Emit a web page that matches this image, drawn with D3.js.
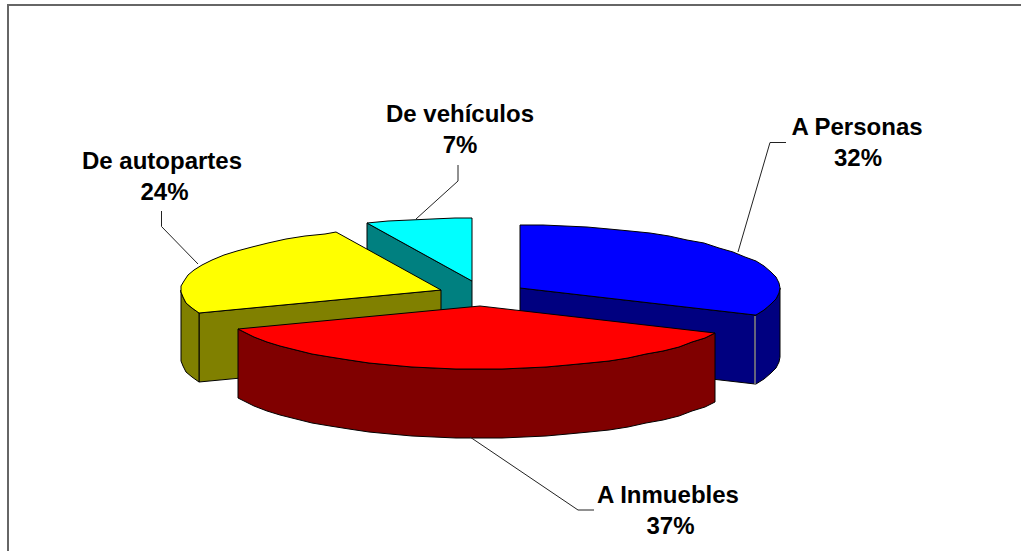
<!DOCTYPE html>
<html>
<head>
    <meta charset="utf-8">
    <title>Robos por tipo</title>
    <script src="https://d3js.org/d3.v7.min.js"></script>
    <style>
        html, body { margin: 0; padding: 0; background: #fff; }
        svg { display: block; }
        .label { font-family: "Liberation Sans", Arial, sans-serif; font-weight: bold; font-size: 24px; fill: #000; text-anchor: middle; }
        .leader { fill: none; stroke: #222; stroke-width: 1; }
        .frame { fill: none; stroke: #666; stroke-width: 2; }
        .top-face, .wall { stroke: #000; stroke-width: 1; stroke-linejoin: round; }
        .corner { stroke: #c8c8c8; stroke-width: 1; }
    </style>
</head>
<body>
    <script>
        // Values (labels are rounded)
        var categories = ["A Personas", "A Inmuebles", "De autopartes", "De vehículos"];
        var values = [32, 37, 24.4, 6.6];
        var topColors = ["#0000ff", "#ff0000", "#ffff00", "#00ffff"];
        var wallColors = ["#000080", "#800000", "#808000", "#008080"];

        var width = 1021, height = 551;

        // Tilted pie: ellipse radii and thickness
        var rx = 260, ry = 63, depth = 69;

        // Apex of every exploded slice
        var apexes = [[520, 288], [480, 306], [441, 290], [472, 281]];

        // Name x and baseline, percent x and baseline, leader line per slice
        var labelPos = [[857, 135, 858, 166], [668, 503, 670.5, 534], [162, 169, 164.5, 200], [460, 122, 460, 153]];
        var leaders = [
            [[738, 252], [770, 142.5], [786, 142.5]],
            [[470, 437], [578, 510], [594, 510]],
            [[198, 264], [161.5, 226.5], [161.5, 211]],
            [[416, 219], [458, 181], [458, 165]]
        ];

        var svg = d3.select("body").append("svg")
            .attr("width", width)
            .attr("height", height);

        // Only the top and left of the chart border are in the frame
        svg.append("path")
            .attr("class", "frame")
            .attr("d", d3.line()([[8, height], [8, 5], [width, 5]]));

        var pie = d3.pie().sort(null);
        var arcs = pie(values);

        // Project a pie angle (clockwise from 12 o'clock) onto the ellipse
        function project(apex, a, dy) {
            return [
                Math.round(apex[0] + rx * Math.sin(a)),
                Math.round(apex[1] - ry * Math.cos(a)) + (dy || 0)
            ];
        }

        // Coarse sampling of the rim, the original has a stepped outline
        var rimStep = 5 * Math.PI / 180;
        function rim(apex, a0, a1, dy) {
            var angles = d3.range(a0, a1, rimStep).concat([a1]);
            return angles.map(function(a) { return project(apex, a, dy); });
        }

        var line = d3.line();

        function drawSlice(i) {
            var d = arcs[i], apex = apexes[i];
            var g = svg.append("g");
            var a0 = d.startAngle, a1 = d.endAngle;

            // Radial wall facing the viewer
            var radialAngle = null;
            if (a0 < Math.PI && a1 > Math.PI / 2 && a1 <= Math.PI) radialAngle = a1;
            if (a0 >= Math.PI) radialAngle = a0;
            if (radialAngle !== null) {
                var p = project(apex, radialAngle);
                g.append("path")
                    .attr("class", "wall")
                    .attr("fill", wallColors[i])
                    .attr("d", line([apex, p, [p[0], p[1] + depth], [apex[0], apex[1] + depth]]) + "Z");
            }

            // Outer wall, only the front half of the rim shows
            var w0 = Math.max(a0, Math.PI / 2), w1 = Math.min(a1, 3 * Math.PI / 2);
            if (w1 > w0) {
                g.append("path")
                    .attr("class", "wall")
                    .attr("fill", wallColors[i])
                    .attr("d", line(rim(apex, w0, w1).concat(rim(apex, w0, w1, depth).reverse())) + "Z");
            }

            // Light edge where the blue walls meet
            if (i === 0) {
                var c = project(apex, a1);
                g.append("path")
                    .attr("class", "corner")
                    .attr("d", line([[c[0], c[1] + 1], [c[0], c[1] + depth]]));
            }

            // Top face
            g.append("path")
                .attr("class", "top-face")
                .attr("fill", topColors[i])
                .attr("d", line([apex].concat(rim(apex, a0, a1))) + "Z");
        }

        // Back to front
        [3, 2, 0, 1].forEach(drawSlice);

        // Leader lines
        svg.selectAll(".leader")
            .data(leaders)
            .enter().append("path")
            .attr("class", "leader")
            .attr("d", function(d) { return line(d); });

        // Labels
        categories.forEach(function(name, i) {
            var pos = labelPos[i];
            svg.append("text").attr("class", "label")
                .attr("x", pos[0]).attr("y", pos[1]).text(name);
            svg.append("text").attr("class", "label")
                .attr("x", pos[2]).attr("y", pos[3]).text(Math.round(values[i]) + "%");
        });
    </script>
</body>
</html>
